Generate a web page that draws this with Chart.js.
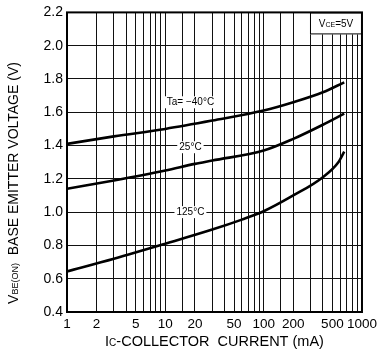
<!DOCTYPE html>
<html>
<head>
<meta charset="utf-8">
<script src="https://cdn.jsdelivr.net/npm/chart.js@4.4.1/dist/chart.umd.min.js"></script>
<style>
  html, body { margin: 0; padding: 0; background: #fff; }
  #wrap { width: 381px; height: 349px; }
</style>
</head>
<body>
<div id="wrap"><canvas id="c" width="381" height="349"></canvas></div>
<script>
// ---- data ----
const seriesNames = ['Ta= \u221240\u00b0C', '25\u00b0C', '125\u00b0C'];
const currentM40 = [1, 3, 10, 30, 100, 200, 400, 660];
const vbeM40     = [1.41, 1.455, 1.50, 1.55, 1.61, 1.66, 1.72, 1.78];
const current25  = [1, 3, 10, 20, 30, 100, 200, 400, 660];
const vbe25      = [1.14, 1.19, 1.25, 1.29, 1.31, 1.37, 1.44, 1.525, 1.592];
const current125 = [1, 3, 10, 30, 60, 100, 200, 400, 575, 660];
const vbe125     = [0.644, 0.72, 0.81, 0.895, 0.955, 1.005, 1.10, 1.21, 1.30, 1.364];
const xTickLabels = [1, 2, 5, 10, 20, 50, 100, 200, 500, 1000];
const yTickLabels = [0.4, 0.6, 0.8, 1.0, 1.2, 1.4, 1.6, 1.8, 2.0, 2.2];
const conditionText = ['V', 'CE', '=5V'];

const FONT = '"Liberation Sans", Arial, Helvetica, sans-serif';

function pts(xs, ys) { return xs.map((x, i) => ({ x: x, y: ys[i] })); }

function mkDs(name, xs, ys) {
  return {
    label: name,
    data: pts(xs, ys),
    borderColor: '#000',
    borderWidth: 2.6,
    pointRadius: 0,
    fill: false,
    cubicInterpolationMode: 'monotone'
  };
}

function runsWidth(ctx, runs) {
  let w = 0;
  for (const r of runs) { ctx.font = r[1] + 'px ' + FONT; w += ctx.measureText(r[0]).width; }
  return w;
}
function drawRuns(ctx, runs, x, y) {
  let cx = x;
  for (const r of runs) {
    ctx.font = r[1] + 'px ' + FONT;
    ctx.fillText(r[0], cx, y + r[2]);
    cx += ctx.measureText(r[0]).width;
  }
}

const decorPlugin = {
  id: 'decor',
  afterDatasetsDraw(chart) {
    const ctx = chart.ctx;
    const xs = chart.scales.x, ys = chart.scales.y;
    const a = chart.chartArea;
    ctx.save();
    const labelSpots = [[18, 1.66], [18, 1.39], [18, 1.0]];
    ctx.font = '10px ' + FONT;
    ctx.textAlign = 'center';
    ctx.textBaseline = 'middle';
    seriesNames.forEach((t, i) => {
      const px = xs.getPixelForValue(labelSpots[i][0]);
      const py = ys.getPixelForValue(labelSpots[i][1]);
      const w = ctx.measureText(t).width;
      ctx.fillStyle = '#fff';
      ctx.fillRect(px - w / 2 - 2, py - 6, w + 4, 12);
      ctx.fillStyle = '#000';
      ctx.fillText(t, px, py);
    });
    const bx0 = a.right - 52, by0 = a.top, bx1 = a.right, by1 = a.top + 22;
    ctx.fillStyle = '#fff';
    ctx.fillRect(bx0, by0, bx1 - bx0, by1 - by0);
    ctx.strokeStyle = '#000';
    ctx.lineWidth = 1;
    ctx.strokeRect(bx0 + 0.5, by0 + 0.5, bx1 - bx0 - 1, by1 - by0 - 1);
    ctx.fillStyle = '#000';
    ctx.textAlign = 'left';
    ctx.textBaseline = 'alphabetic';
    const cr = [[conditionText[0], 10, 0], [conditionText[1], 7, 0], [conditionText[2], 10, 0]];
    const cw = runsWidth(ctx, cr);
    drawRuns(ctx, cr, (bx0 + bx1) / 2 - cw / 2, (by0 + by1) / 2 + 4);
    ctx.lineWidth = 2;
    ctx.strokeStyle = '#000';
    ctx.strokeRect(a.left, a.top, a.right - a.left, a.bottom - a.top);
    const xr = [['I', 14.5, 0], ['C', 10, 0], ['-COLLECTOR  CURRENT (mA)', 14.5, 0]];
    const xw = runsWidth(ctx, xr);
    drawRuns(ctx, xr, (a.left + a.right) / 2 - xw / 2, 345.5);
    ctx.translate(17.5, 183);
    ctx.rotate(-Math.PI / 2);
    const yr = [['V', 14, 0], ['BE(ON)', 9, 0], ['  BASE EMITTER VOLTAGE (V)', 14, 0]];
    const yw = runsWidth(ctx, yr);
    drawRuns(ctx, yr, -yw / 2, 0);
    ctx.restore();
  }
};

new Chart(document.getElementById('c'), {
  type: 'line',
  data: {
    datasets: [
      mkDs(seriesNames[0], currentM40, vbeM40),
      mkDs(seriesNames[1], current25, vbe25),
      mkDs(seriesNames[2], current125, vbe125)
    ]
  },
  options: {
    responsive: false,
    animation: false,
    devicePixelRatio: 1,
    layout: { padding: { left: 0, right: 15, top: 12, bottom: 0 } },
    plugins: { legend: { display: false }, tooltip: { enabled: false } },
    scales: {
      x: {
        type: 'logarithmic',
        min: 1, max: 1000,
        afterFit(s) { s.height = 37; },
        grid: { color: '#111', lineWidth: 1, drawTicks: false },
        border: { display: false },
        ticks: {
          autoSkip: false, maxRotation: 0, minRotation: 0, padding: 4,
          color: '#000', font: { family: FONT, size: 13.5 },
          callback(v) {
            const r = Math.round(v);
            return xTickLabels.includes(r) ? String(r) : '';
          }
        }
      },
      y: {
        type: 'linear',
        min: yTickLabels[0], max: yTickLabels[yTickLabels.length - 1],
        afterFit(s) { s.width = 67; },
        grid: { color: '#111', lineWidth: 1, drawTicks: false },
        border: { display: false },
        ticks: {
          stepSize: 0.2, padding: 4,
          color: '#000', font: { family: FONT, size: 14 },
          callback(v) { return Number(v).toFixed(1); }
        }
      }
    }
  },
  plugins: [decorPlugin]
});
</script>
</body>
</html>
